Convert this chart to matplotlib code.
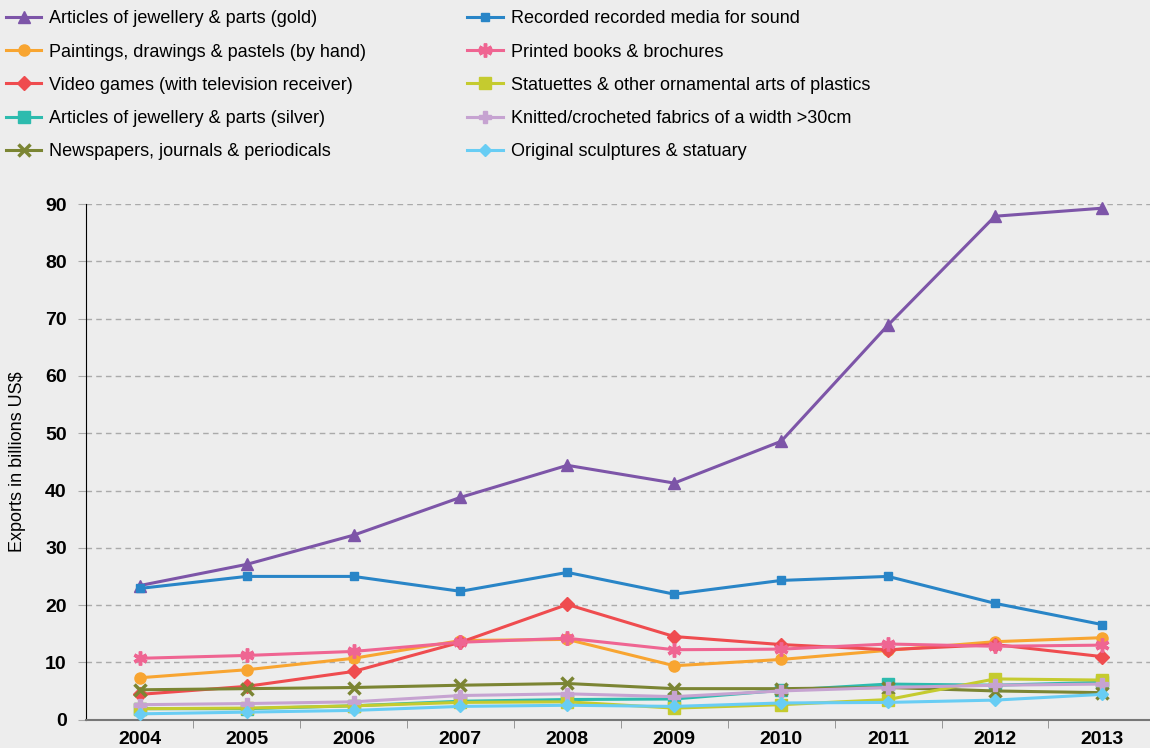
import numpy as np
import matplotlib.pyplot as plt

years = [2004, 2005, 2006, 2007, 2008, 2009, 2010, 2011, 2012, 2013]

gold = [23.4, 27.1, 32.2, 38.8, 44.4, 41.3, 48.6, 68.9, 87.9, 89.3]
paintings = [7.3, 8.7, 10.7, 13.8, 14.0, 9.4, 10.5, 12.1, 13.6, 14.3]
video_games = [4.4, 5.8, 8.4, 13.5, 20.1, 14.5, 13.1, 12.2, 13.1, 11.0]
silver = [1.9, 1.9, 2.4, 3.2, 3.5, 3.6, 5.1, 6.2, 6.0, 6.5]
newspapers = [5.2, 5.4, 5.6, 6.0, 6.3, 5.4, 5.4, 5.6, 5.0, 4.7]
recorded = [22.9, 25.0, 25.0, 22.4, 25.7, 21.9, 24.3, 25.0, 20.3, 16.6]
books = [10.7, 11.2, 11.9, 13.5, 14.2, 12.2, 12.3, 13.2, 12.8, 13.0]
statuettes = [1.9, 2.0, 2.4, 3.0, 3.1, 2.0, 2.6, 3.5, 7.1, 6.9]
knitted = [2.6, 2.8, 3.1, 4.2, 4.5, 4.0, 5.0, 5.6, 6.0, 6.2]
sculptures = [1.0, 1.3, 1.6, 2.3, 2.5, 2.3, 2.9, 3.0, 3.4, 4.4]

# label, values, colour, marker, marker size
series = [
    ("Articles of jewellery & parts (gold)", gold, "#7d55a8", "^", 8),
    ("Paintings, drawings & pastels (by hand)", paintings, "#f8a531", "o", 8),
    ("Video games (with television receiver)", video_games, "#ef4c4f", "D", 7),
    ("Articles of jewellery & parts (silver)", silver, "#2dbbae", "s", 8),
    ("Newspapers, journals & periodicals", newspapers, "#7b8533", "x", 9),
    ("Recorded recorded media for sound", recorded, "#2985c7", "s", 6),
    ("Printed books & brochures", books, "#ef6592", (6, 2, 0), 10),
    ("Statuettes & other ornamental arts of plastics", statuettes, "#c5cb2f", "s", 8),
    ("Knitted/crocheted fabrics of a width >30cm", knitted, "#c6a3d1", "P", 8),
    ("Original sculptures & statuary", sculptures, "#68cdf4", "D", 6),
]

bg = "#ededed"
plt.rcParams['font.family'] = ['Liberation Sans', 'DejaVu Sans']

fig = plt.figure(figsize=(11.5, 7.48), dpi=100, facecolor=bg)
ax = fig.add_axes([0.075, 0.038, 0.925, 0.689], facecolor=bg)

handles = []
for label, vals, col, mk, ms in series:
    h, = ax.plot(years, vals, color=col, lw=2.2, marker=mk, ms=ms,
                 mew=2.5 if mk in ("x", (6, 2, 0)) else 1, mec=col, mfc=col,
                 label=label, clip_on=False, zorder=3)
    handles.append(h)

ax.set_ylim(0, 90)
ax.set_xlim(2003.5, 2013.45)
ax.set_yticks(np.arange(0, 91, 10))
ax.set_xticks(years)
ax.set_xticks(np.arange(2004.5, 2013.5, 1), minor=True)
ax.tick_params(axis='x', which='major', length=0, pad=8, labelsize=14)
ax.tick_params(axis='x', which='minor', length=6, color='#888888')
ax.tick_params(axis='y', length=6, color='#aaaaaa', labelsize=14, pad=8)
for t in ax.get_xticklabels() + ax.get_yticklabels():
    t.set_fontweight('bold')

ax.yaxis.grid(True, linestyle=(0, (4, 3)), color='#aaaaaa', lw=1)
ax.set_axisbelow(True)
for s in ['top', 'right']:
    ax.spines[s].set_visible(False)
ax.spines['left'].set_color('black')
ax.spines['bottom'].set_color('#777777')
ax.spines['bottom'].set_linewidth(1.5)

ax.set_ylabel("Exports in billions US$", fontsize=13, labelpad=14)

fig.legend(handles=handles, loc='upper left', bbox_to_anchor=(-0.009, 1.008),
           ncol=2, frameon=False, fontsize=13, handlelength=1.95,
           columnspacing=5.6, labelspacing=0.9, handletextpad=0.45)

fig.savefig("out.png", dpi=100, facecolor=bg)
